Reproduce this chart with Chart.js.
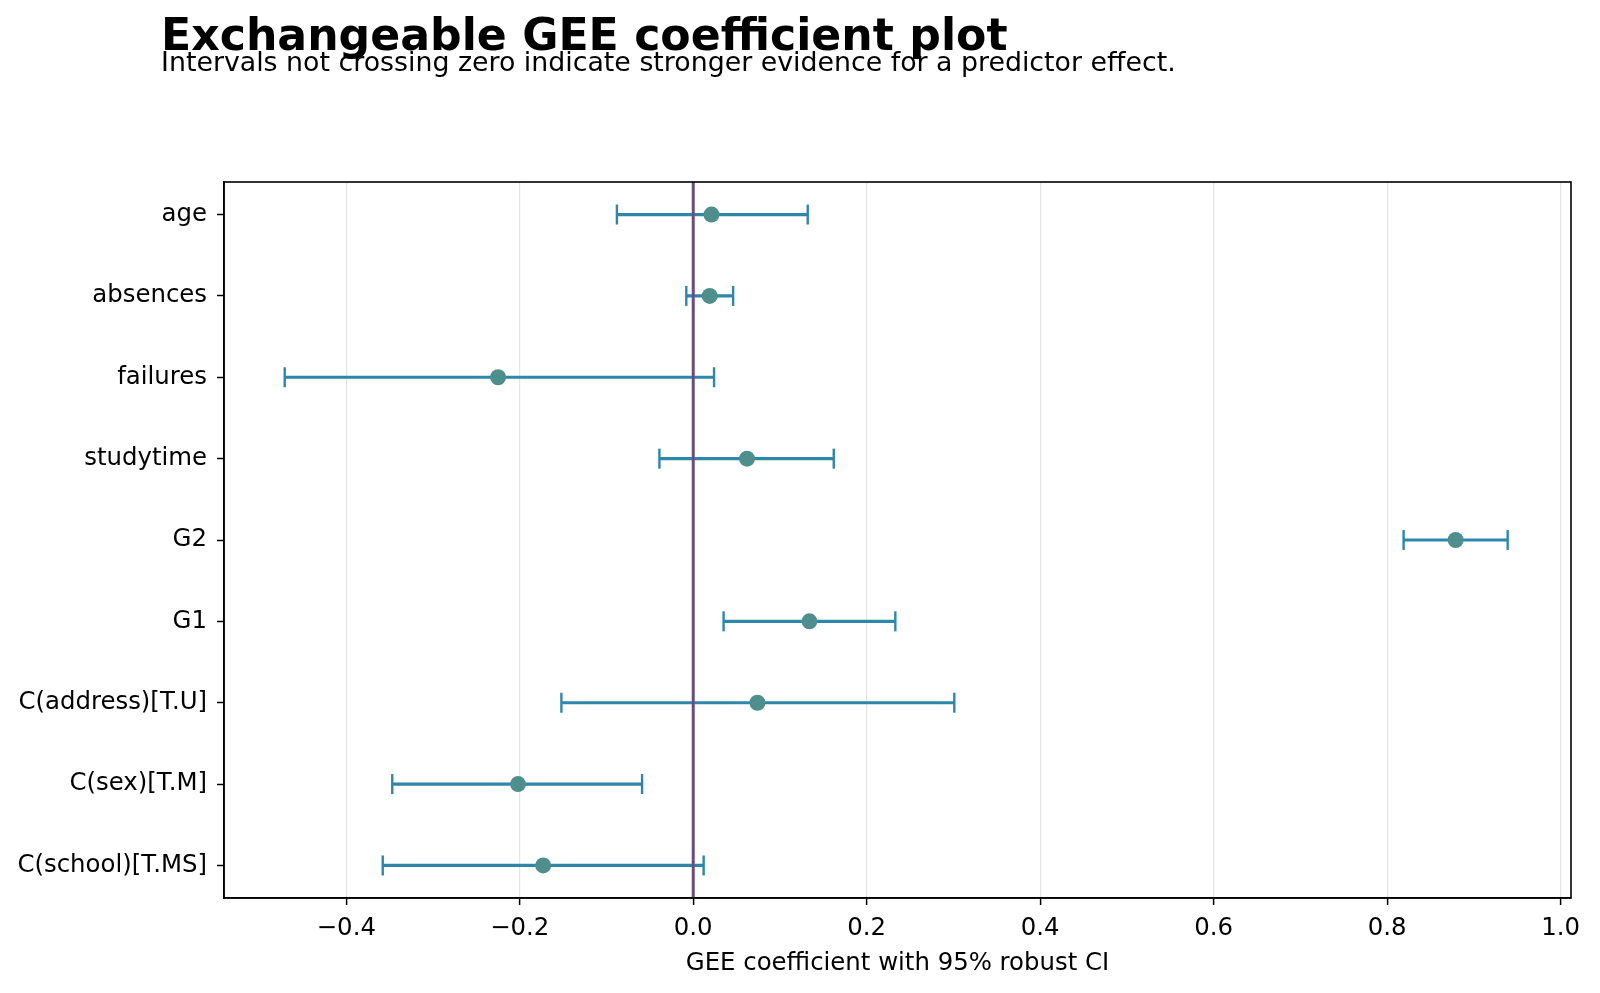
<!DOCTYPE html>
<html>
<head>
<meta charset="utf-8">
<script src="https://cdn.jsdelivr.net/npm/chart.js@4.4.1/dist/chart.umd.min.js"></script>
<style>
  html, body { margin: 0; padding: 0; background: #fff; }
  #wrap { position: relative; width: 1600px; height: 993px; overflow: hidden; }
  #title { position: absolute; left: 161px; top: 13px; font: bold 44.2px "DejaVu Sans"; line-height: 1; color: #000; white-space: nowrap; }
  #subtitle { position: absolute; left: 161px; top: 48.5px; font: 26.8px "DejaVu Sans"; line-height: 1; color: #000; white-space: nowrap; }
  canvas { position: absolute; left: 0; top: 0; }
</style>
</head>
<body>
<div id="wrap">
  <canvas id="c" width="1600" height="993"></canvas>
  <div id="title">Exchangeable GEE coefficient plot</div>
  <div id="subtitle">Intervals not crossing zero indicate stronger evidence for a predictor effect.</div>
</div>
<script>
// ---- data ----
const categories = ["age", "absences", "failures", "studytime", "G2", "G1", "C(address)[T.U]", "C(sex)[T.M]", "C(school)[T.MS]"];
const estimates  = [0.021, 0.019, -0.225, 0.062, 0.879, 0.134, 0.074, -0.202, -0.173];
const ciLower    = [-0.088, -0.008, -0.471, -0.039, 0.819, 0.035, -0.152, -0.347, -0.358];
const ciUpper    = [0.132, 0.046, 0.024, 0.162, 0.939, 0.233, 0.301, -0.059, 0.012];
const xTicks     = [-0.4, -0.2, 0.0, 0.2, 0.4, 0.6, 0.8, 1.0];
const referenceValue = 0;

// ---- axis bounds / styles ----
const X_MIN = -0.541, X_MAX = 1.012;
const Y_MIN = -0.4, Y_MAX = categories.length - 1 + 0.4;
const MARKER = "#4E8F8D", BAR = "#2E86AB", ZERO = "#6B4C7E";
const FS = 24.4;

Chart.defaults.font.family = "DejaVu Sans";
Chart.defaults.color = "#000";

const datasets = [];
// markers (drawn on top)
datasets.push({
  type: "line", label: "estimate", showLine: false, order: 0,
  data: estimates.map((v, i) => ({ x: v, y: i })),
  pointRadius: 8, pointHoverRadius: 8, pointBackgroundColor: MARKER, pointBorderWidth: 0
});
// zero reference line
datasets.push({
  type: "line", label: "zero", order: 1,
  data: [{ x: referenceValue, y: Y_MIN }, { x: referenceValue, y: Y_MAX }],
  borderColor: ZERO, borderWidth: 3, pointRadius: 0
});
// error bars with caps
categories.forEach((c, i) => {
  datasets.push({
    type: "line", label: "ci " + c, order: 2,
    data: [{ x: ciLower[i], y: i }, { x: ciUpper[i], y: i }],
    borderColor: BAR, borderWidth: 3.2,
    pointStyle: "line", rotation: 90, pointRadius: 10, pointHoverRadius: 10,
    pointBorderColor: BAR, pointBorderWidth: 2.4
  });
});

const framePlugin = {
  id: "frame",
  afterDraw(chart) {
    const a = chart.chartArea, ctx = chart.ctx;
    ctx.save();
    ctx.strokeStyle = "#000";
    ctx.lineWidth = 1.6;
    ctx.strokeRect(a.left, a.top, a.right - a.left, a.bottom - a.top);
    ctx.restore();
  }
};

const fmt = v => { const s = Math.abs(v).toFixed(1); return (v < -1e-9 ? "\u2212" : "") + s; };

new Chart(document.getElementById("c"), {
  type: "line",
  data: { datasets },
  plugins: [framePlugin],
  options: {
    responsive: false, animation: false, devicePixelRatio: 1,
    layout: { padding: { top: 182, right: 29, left: 0, bottom: 0 } },
    plugins: { legend: { display: false }, tooltip: { enabled: false }, title: { display: false } },
    scales: {
      x: {
        type: "linear", position: "bottom", min: X_MIN, max: X_MAX,
        afterBuildTicks: s => { s.ticks = xTicks.map(v => ({ value: v })); },
        afterFit: s => { s.height = 95; },
        ticks: { callback: v => fmt(v), font: { size: FS }, padding: 9, maxRotation: 0, autoSkip: false },
        grid: { color: "#e4e4e4", lineWidth: 1.2, drawTicks: true, tickLength: 7, tickColor: "#000", tickWidth: 1.5 },
        border: { display: true, color: "#000", width: 1.6 },
        title: { display: true, text: "GEE coefficient with 95% robust CI", font: { size: FS }, padding: { top: 0, bottom: 15 } }
      },
      y: {
        type: "linear", position: "left", min: Y_MIN, max: Y_MAX, reverse: true,
        afterBuildTicks: s => { s.ticks = categories.map((c, i) => ({ value: i })); },
        afterFit: s => { s.width = 224; },
        ticks: { callback: v => categories[v], font: { size: FS }, padding: 10, autoSkip: false },
        grid: { drawOnChartArea: false, drawTicks: true, tickLength: 7, tickColor: "#000", tickWidth: 1.5 },
        border: { display: true, color: "#000", width: 1.6 }
      }
    }
  }
});
</script>
</body>
</html>
